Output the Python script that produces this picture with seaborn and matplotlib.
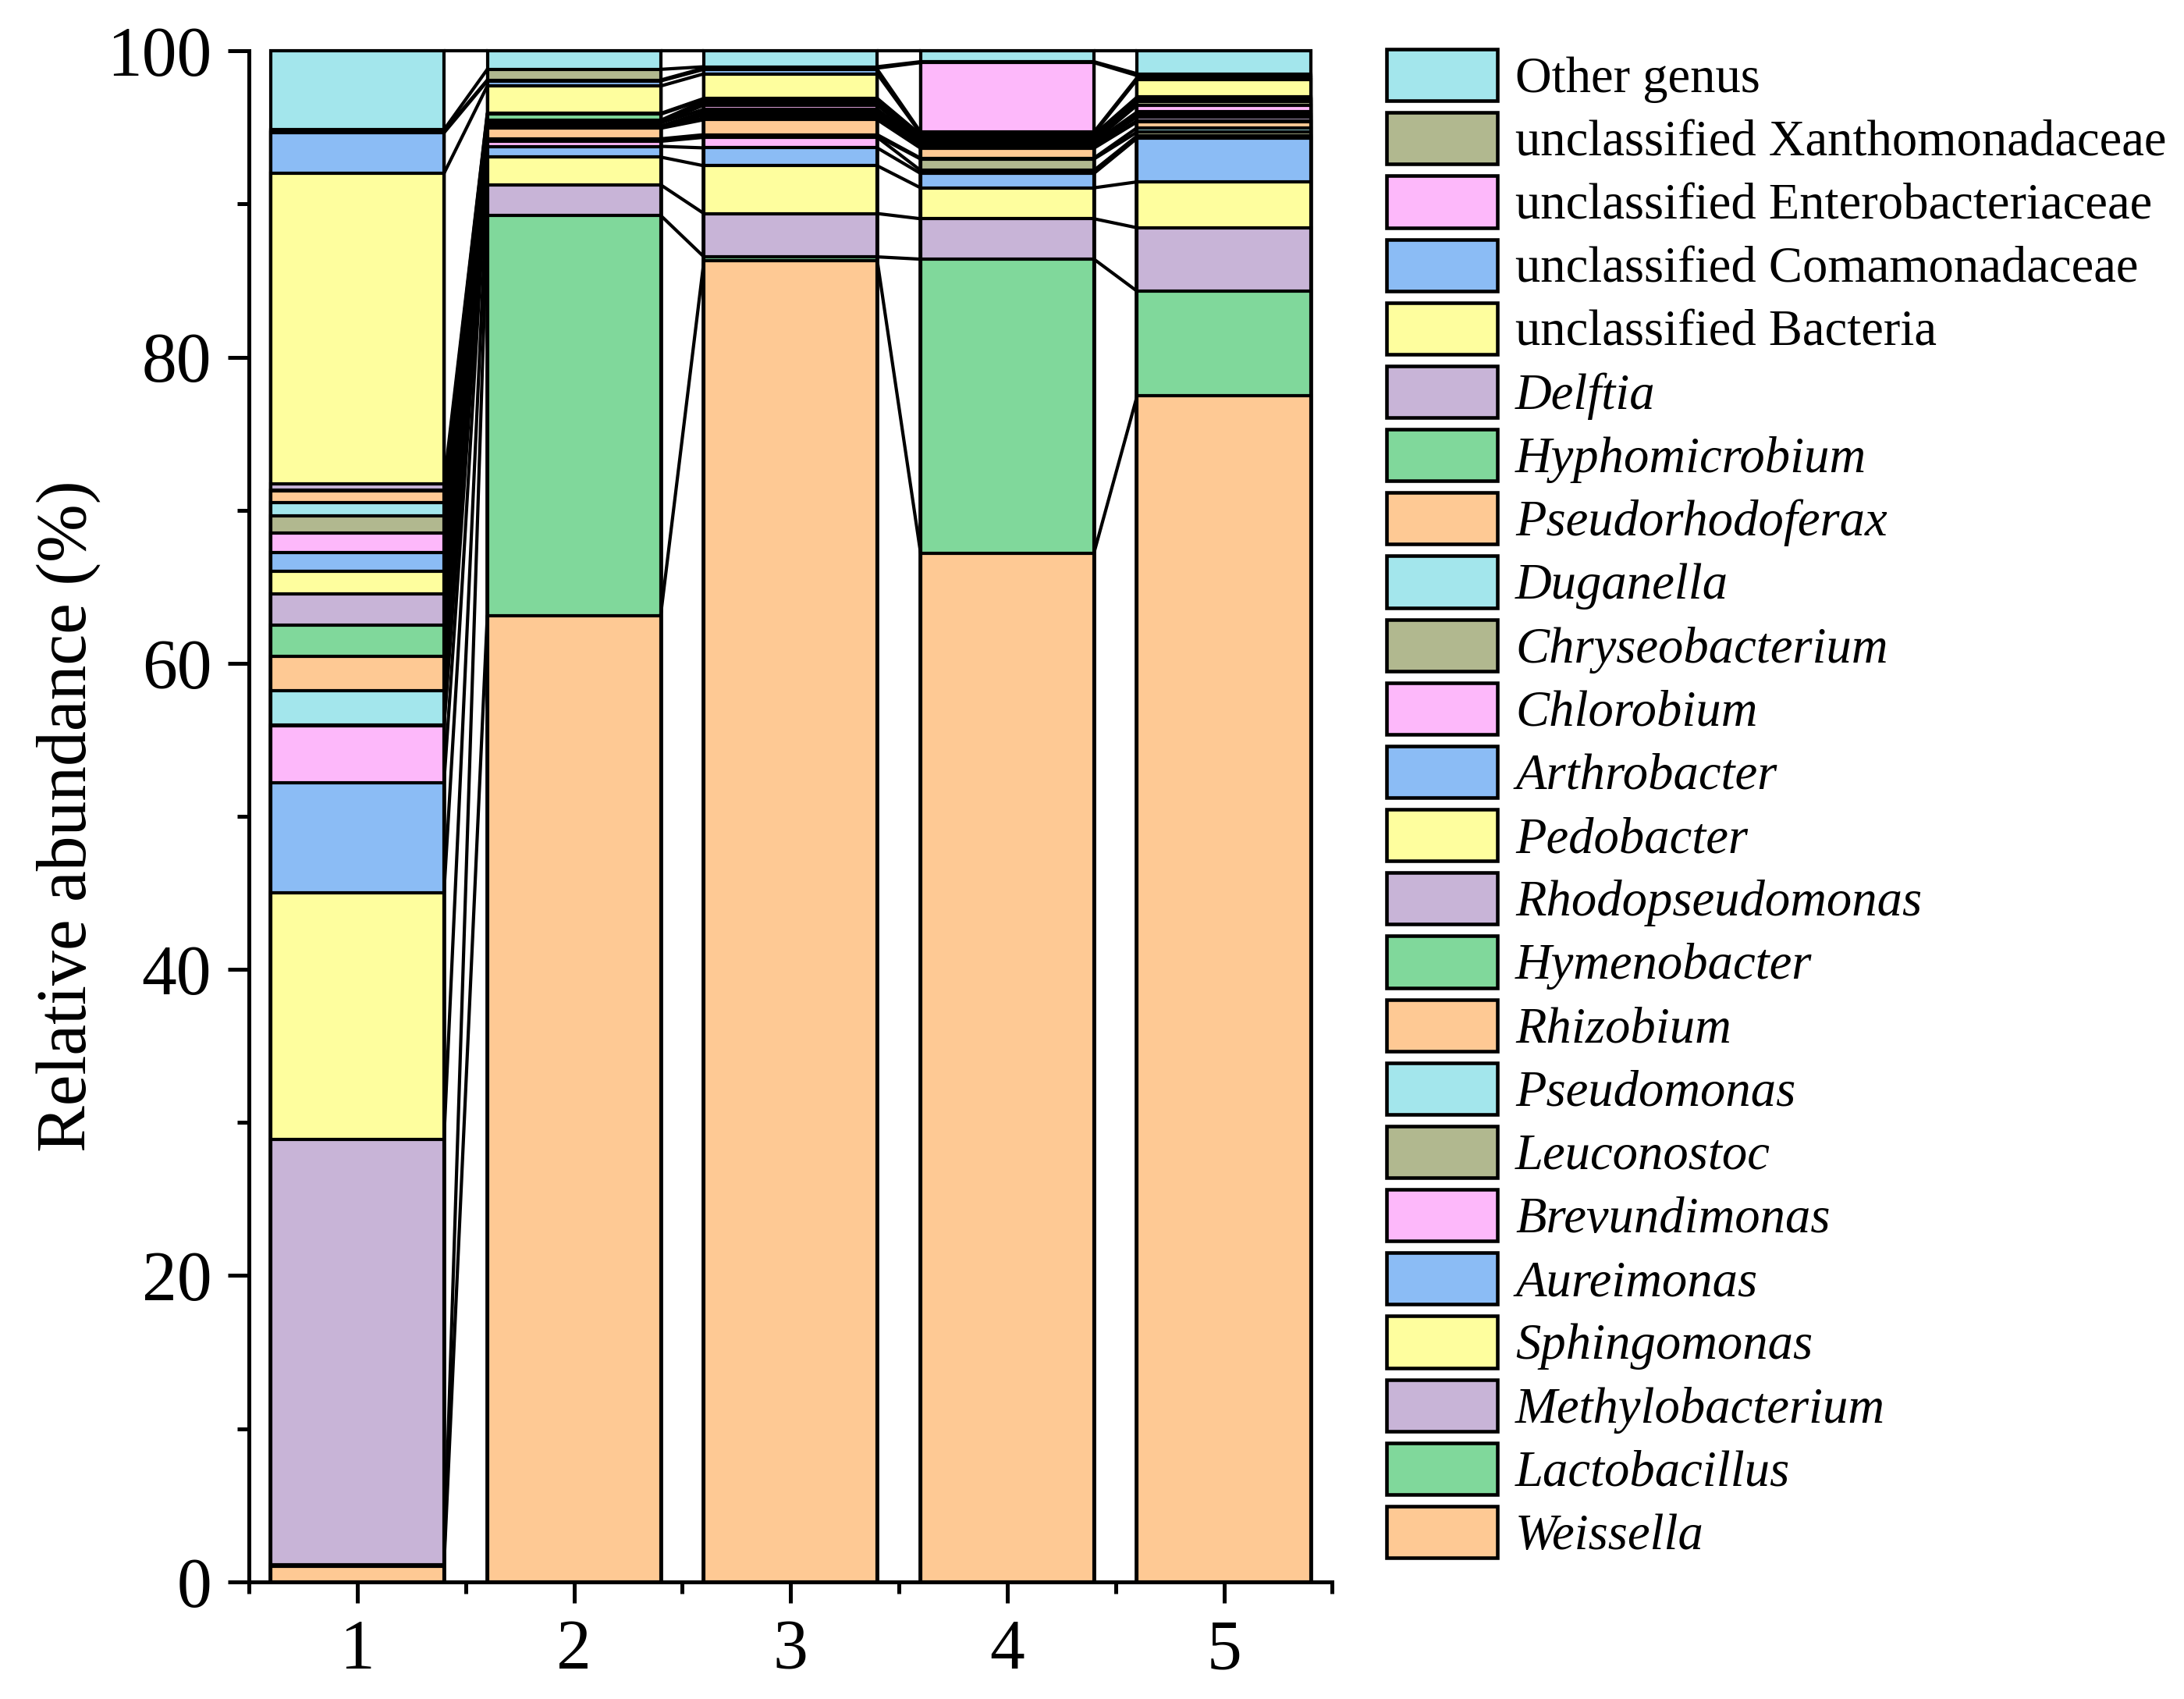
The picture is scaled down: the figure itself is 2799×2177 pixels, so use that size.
import numpy as np
import pandas as pd
import matplotlib
matplotlib.use('Agg')
import matplotlib.pyplot as plt
import matplotlib.patches as mpatches
from matplotlib.ticker import MultipleLocator
import seaborn as sns

# Samples and genera (bottom of the stack first)
samples = ['1', '2', '3', '4', '5']
genera = ['Weissella', 'Lactobacillus', 'Methylobacterium', 'Sphingomonas',
          'Aureimonas', 'Brevundimonas', 'Leuconostoc', 'Pseudomonas',
          'Rhizobium', 'Hymenobacter', 'Rhodopseudomonas', 'Pedobacter',
          'Arthrobacter', 'Chlorobium', 'Chryseobacterium', 'Duganella',
          'Pseudorhodoferax', 'Hyphomicrobium', 'Delftia',
          'unclassified Bacteria', 'unclassified Comamonadaceae',
          'unclassified Enterobacteriaceae', 'unclassified Xanthomonadaceae',
          'Other genus']

# Relative abundance (%) per sample, same order as genera
s1 = [1.0, 0.1, 27.8, 16.1, 7.2, 3.7, 0.05, 2.25, 2.25, 2.05, 2.05, 1.45,
      1.25, 1.25, 1.15, 0.85, 0.75, 0.08, 0.4, 20.27, 2.65, 0.1, 0.1, 5.15]
s2 = [63.1, 26.16, 2.0, 1.81, 0.7, 0.33, 0.08, 0.08, 0.69, 0.05, 0.05, 0.05,
      0.21, 0.04, 0.04, 0.04, 0.04, 0.40, 0.05, 1.79, 0.33, 0.06, 0.7, 1.2]
s3 = [86.3, 0.25, 2.83, 3.12, 1.17, 0.69, 0.08, 0.09, 0.98, 0.12, 0.2, 0.18,
      0.18, 0.27, 0.09, 0.09, 0.09, 0.09, 0.08, 1.61, 0.29, 0.08, 0.09, 1.03]
s4 = [67.2, 19.2, 2.64, 2.02, 0.94, 0.2, 0.74, 0.06, 0.65, 0.07, 0.13, 0.085,
      0.085, 0.085, 0.085, 0.085, 0.085, 0.085, 0.085, 0.085, 0.085, 4.54,
      0.06, 0.70]
s5 = [77.5, 6.8, 4.15, 3.0, 2.86, 0.15, 0.25, 0.28, 0.39, 0.07, 0.25, 0.16,
      0.16, 0.45, 0.24, 0.07, 0.07, 0.07, 0.08, 1.15, 0.12, 0.12, 0.12, 1.49]

colors8 = ['#FEC994', '#80D89B', '#C8B4D7', '#FEFE9E',
           '#8BBCF5', '#FDB8FA', '#B1B88F', '#A3E6EC']

df = pd.DataFrame({'1': s1, '2': s2, '3': s3, '4': s4, '5': s5}, index=genera)
cum = df.cumsum(axis=0)

sns.set_style('ticks')
plt.rcParams['font.family'] = 'serif'
plt.rcParams['font.serif'] = ['Liberation Serif', 'Times New Roman', 'DejaVu Serif']
for key in ['text.color', 'axes.labelcolor', 'xtick.color', 'ytick.color', 'axes.edgecolor']:
    plt.rcParams[key] = 'black'

fig = plt.figure(figsize=(2799 / 300, 2177 / 300), dpi=300)
ax = fig.add_axes([0.114, 0.069, 0.496, 0.901])

lw = 1.0
# draw cumulative bars from the top layer down
for k in range(len(genera) - 1, -1, -1):
    g = genera[k]
    sns.barplot(x=samples, y=cum.loc[g].values, color=colors8[k % 8],
                saturation=1, edgecolor='black', linewidth=lw, width=0.8,
                errorbar=None, ax=ax, zorder=2)

# connecting lines between neighbouring bars
for i in range(len(samples) - 1):
    for g in genera:
        ax.plot([i + 0.4, i + 0.6], [cum.loc[g, samples[i]], cum.loc[g, samples[i + 1]]],
                color='black', lw=lw, zorder=3, clip_on=False)

for p in ax.patches:
    p.set_clip_on(False)

ax.set_xlim(-0.5, 4.5)
ax.set_ylim(0, 100)
ax.yaxis.set_major_locator(MultipleLocator(20))
ax.yaxis.set_minor_locator(MultipleLocator(10))
ax.set_xticks(range(len(samples)))
ax.set_xticklabels(samples)
ax.set_xticks(np.arange(-0.5, 5, 1), minor=True)
ax.tick_params(axis='both', which='major', length=6.5, width=1.2,
               labelsize=21.5, pad=5, direction='out', colors='black')
ax.tick_params(axis='both', which='minor', length=3.5, width=1.2, direction='out')
ax.set_xlabel('')
ax.set_ylabel('Relative abundance (%)', fontsize=21.5, labelpad=2)
sns.despine(ax=ax)
for side in ['left', 'bottom']:
    ax.spines[side].set_linewidth(1.2)
    ax.spines[side].set_zorder(4)

# legend, top entry = top of the stack
handles = []
labels = []
for k in range(len(genera) - 1, -1, -1):
    handles.append(mpatches.Patch(facecolor=colors8[k % 8], edgecolor='black', linewidth=1.1))
    labels.append(genera[k])
leg = fig.legend(handles, labels, loc='upper left', bbox_to_anchor=(0.635, 0.971),
                 frameon=False, fontsize=15.5, handlelength=2.2, handleheight=1.2,
                 handletextpad=0.35, labelspacing=0.19, borderpad=0, borderaxespad=0)
for t in leg.get_texts():
    if not (t.get_text().startswith('unclassified') or t.get_text().startswith('Other')):
        t.set_fontstyle('italic')

fig.savefig('out.png', dpi=300)
